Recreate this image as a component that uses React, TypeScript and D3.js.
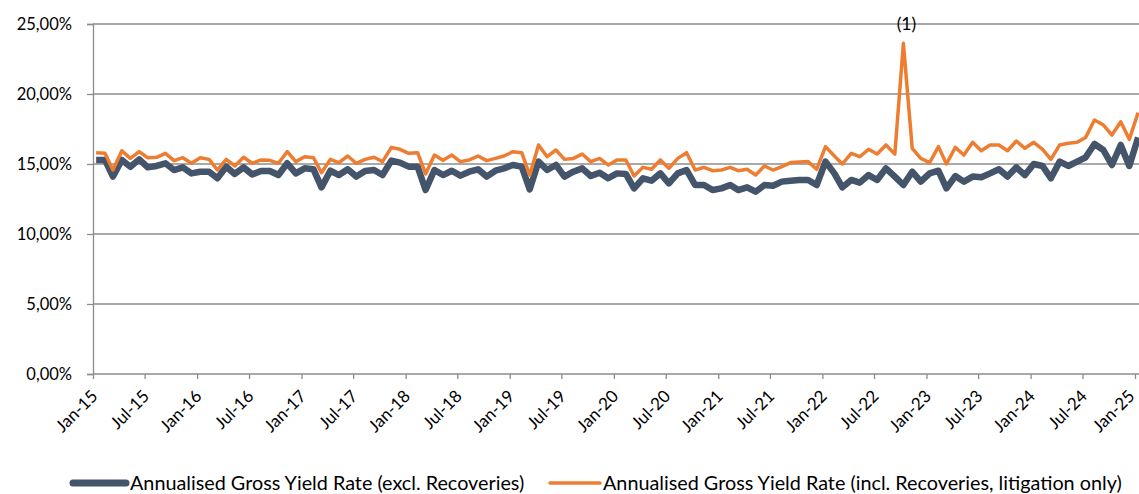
import * as d3 from 'd3'
import { useEffect, useRef } from 'react'

// monthly values, Jan-15 .. Jan-25 (in %)
const exclRecoveries = [
  15.29, 15.29, 14.1, 15.29, 14.8, 15.33, 14.76, 14.86, 15.05, 14.57, 14.76, 14.33,
  14.45, 14.45, 13.98, 14.81, 14.29, 14.76, 14.26, 14.5, 14.5, 14.21, 15.05, 14.33,
  14.69, 14.62, 13.33, 14.52, 14.21, 14.62, 14.1, 14.5, 14.57, 14.21, 15.24, 15.1,
  14.81, 14.81, 13.14, 14.57, 14.21, 14.52, 14.17, 14.45, 14.62, 14.1, 14.52, 14.69,
  14.93, 14.81, 13.19, 15.17, 14.57, 14.93, 14.1, 14.45, 14.69, 14.14, 14.38, 13.98,
  14.33, 14.29, 13.26, 13.98, 13.81, 14.33, 13.62, 14.33, 14.57, 13.5, 13.5, 13.14,
  13.26, 13.5, 13.14, 13.33, 13.02, 13.5, 13.45, 13.74, 13.81, 13.86, 13.86, 13.5,
  15.17, 14.33, 13.33, 13.86, 13.67, 14.21, 13.86, 14.69, 14.1, 13.5, 14.45, 13.74,
  14.33, 14.52, 13.26, 14.14, 13.74, 14.1, 14.05, 14.33, 14.62, 14.1, 14.76, 14.21,
  15.0, 14.86, 13.98, 15.17, 14.86, 15.17, 15.48, 16.43, 16.0, 14.93, 16.36, 14.86,
  16.9
]

const inclRecoveries = [
  15.81, 15.76, 14.57, 15.95, 15.4, 15.88, 15.45, 15.48, 15.76, 15.24, 15.45, 15.05,
  15.45, 15.33, 14.57, 15.33, 14.86, 15.48, 15.05, 15.29, 15.26, 15.05, 15.88, 15.17,
  15.52, 15.45, 14.38, 15.33, 15.1, 15.57, 15.05, 15.33, 15.48, 15.17, 16.19, 16.05,
  15.76, 15.81, 14.29, 15.64, 15.26, 15.64, 15.17, 15.29, 15.57, 15.24, 15.4, 15.57,
  15.88, 15.81, 14.21, 16.36, 15.52, 16.0, 15.33, 15.4, 15.71, 15.17, 15.4, 14.93,
  15.29, 15.29, 14.14, 14.76, 14.62, 15.29, 14.69, 15.4, 15.81, 14.57, 14.76, 14.52,
  14.57, 14.76, 14.52, 14.62, 14.21, 14.86, 14.57, 14.81, 15.1, 15.14, 15.17, 14.62,
  16.24, 15.57, 15.0, 15.76, 15.52, 16.05, 15.71, 16.36, 15.71, 23.62, 16.12, 15.4,
  15.1, 16.24, 15.0, 16.19, 15.64, 16.55, 15.95, 16.36, 16.36, 15.95, 16.64, 16.12,
  16.55, 16.05, 15.33, 16.36, 16.48, 16.55, 16.9, 18.14, 17.79, 17.07, 18.02, 16.76,
  18.67
]

const seriesNames = [
  'Annualised Gross Yield Rate (excl. Recoveries)',
  'Annualised Gross Yield Rate (incl. Recoveries, litigation only)'
]
const yTicks = [0, 5, 10, 15, 20, 25]
const annotationLabel = '(1)'
const annotationIndex = 93

// observations are plotted a little after the first of each month
const dates = exclRecoveries.map((_, i) => new Date(2015, i, 12))

export default function App() {
  const ref = useRef<SVGSVGElement>(null)

  useEffect(() => {
    const svg = d3.select(ref.current)
    svg.selectAll('*').remove()

    const font = 'Lato, "Open Sans", sans-serif'
    const x = d3.scaleTime().domain([new Date(2015, 0, 1), new Date(2025, 0, 1)]).range([93, 1135])
    const y = d3.scaleLinear().domain([0, 25]).range([374, 24])

    // gridlines
    svg
      .append('g')
      .selectAll('line')
      .data(yTicks.filter((t) => t > 0))
      .enter()
      .append('line')
      .attr('x1', 93)
      .attr('x2', 1139)
      .attr('y1', (d) => y(d))
      .attr('y2', (d) => y(d))
      .attr('stroke', '#8c8c8c')
      .attr('stroke-width', 1.3)

    // y axis
    const yAxis = svg
      .append('g')
      .attr('transform', 'translate(93,0)')
      .call(
        d3
          .axisLeft(y)
          .tickValues(yTicks)
          .tickSize(6)
          .tickPadding(15)
          .tickFormat((d) => (d as number).toFixed(2).replace('.', ',') + '%')
      )
    yAxis.select('.domain').attr('stroke', '#8c8c8c').attr('stroke-width', 1.3)
    yAxis.selectAll('.tick line').attr('stroke', '#8c8c8c').attr('stroke-width', 1.3)
    yAxis
      .selectAll('.tick text')
      .attr('font-family', font)
      .attr('font-size', 16.5)
      .attr('fill', '#000')

    // x axis
    const xTicks = d3.range(0, 121, 6).map((i) => new Date(2015, i, 1))
    const xAxis = svg
      .append('g')
      .attr('transform', 'translate(0,374)')
      .call(
        d3
          .axisBottom(x)
          .tickValues(xTicks)
          .tickSize(5)
          .tickSizeOuter(0)
          .tickFormat((d) => d3.timeFormat('%b-%y')(d as Date))
      )
    xAxis.select('.domain').attr('stroke', '#8c8c8c').attr('stroke-width', 1.3).attr('d', 'M93,0H1139')
    xAxis.selectAll('.tick line').attr('stroke', '#8c8c8c').attr('stroke-width', 1.3)
    xAxis
      .selectAll('.tick text')
      .attr('font-family', font)
      .attr('font-size', 17)
      .attr('fill', '#000')
      .attr('text-anchor', 'end')
      .attr('dy', '0.35em')
      .attr('transform', (_, i, nodes) =>
        i === nodes.length - 1 ? 'translate(-4,19) rotate(-45)' : 'translate(1,19) rotate(-45)'
      )
      .attr('y', 0)
      .attr('x', 0)

    const line = d3
      .line<number>()
      .x((_, i) => x(dates[i]))
      .y((d) => y(d))

    svg
      .append('path')
      .datum(exclRecoveries)
      .attr('fill', 'none')
      .attr('stroke', '#44546a')
      .attr('stroke-width', 6.5)
      .attr('stroke-linejoin', 'round')
      .attr('d', line)

    svg
      .append('path')
      .datum(inclRecoveries)
      .attr('fill', 'none')
      .attr('stroke', '#ed7d31')
      .attr('stroke-width', 3.5)
      .attr('stroke-linejoin', 'round')
      .attr('d', line)

    svg
      .append('text')
      .attr('x', x(dates[annotationIndex]) + 3)
      .attr('y', y(inclRecoveries[annotationIndex]) - 13)
      .attr('text-anchor', 'middle')
      .attr('font-family', font)
      .attr('font-size', 17.5)
      .text(annotationLabel)

    // legend
    const legend = [
      { name: seriesNames[0], color: '#44546a', width: 7, x1: 73, x2: 126, tx: 130 },
      { name: seriesNames[1], color: '#ed7d31', width: 3.5, x1: 550, x2: 600, tx: 603 }
    ]
    const lg = svg.append('g')
    legend.forEach((l) => {
      lg.append('line')
        .attr('x1', l.x1)
        .attr('x2', l.x2)
        .attr('y1', 483)
        .attr('y2', 483)
        .attr('stroke', l.color)
        .attr('stroke-width', l.width)
        .attr('stroke-linecap', 'round')
      lg.append('text')
        .attr('x', l.tx)
        .attr('y', 490)
        .attr('font-family', font)
        .attr('font-size', 19.8)
        .attr('fill', '#000')
        .text(l.name)
    })
  }, [])

  return (
    <div style={{ position: 'absolute', left: 0, top: 0 }}>
      <svg ref={ref} width={1139} height={494} style={{ display: 'block', background: '#fff' }} />
    </div>
  )
}
